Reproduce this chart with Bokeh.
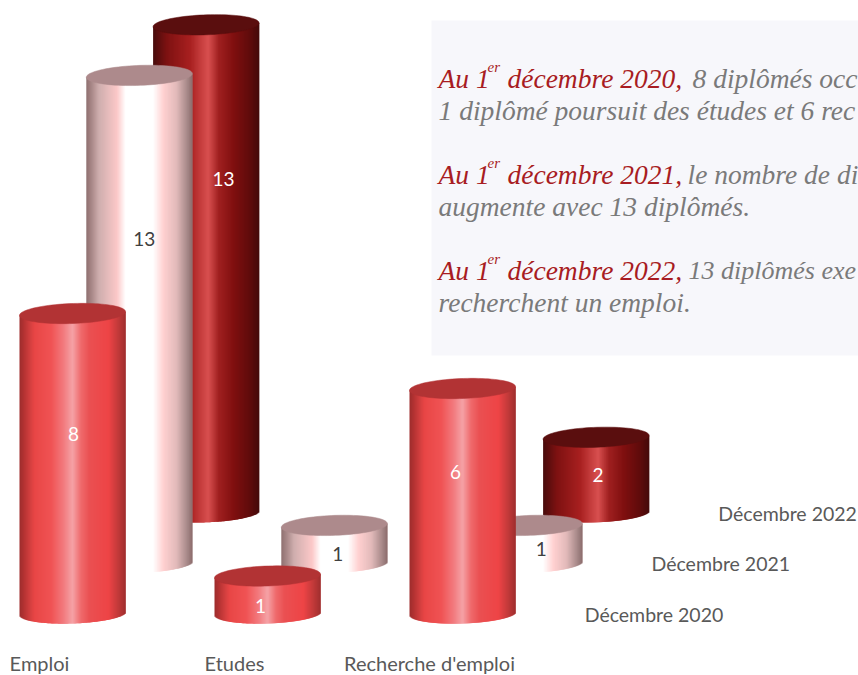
import numpy as np
from bokeh.plotting import figure
from bokeh.models import Range1d, Label, ColumnDataSource, GlobalInlineStyleSheet
from bokeh.core.properties import value
from bokeh.embed import file_html
from bokeh.resources import INLINE

categories = ["Emploi", "Etudes", "Recherche d'emploi"]
series_names = ["Décembre 2020", "Décembre 2021", "Décembre 2022"]
dec_2020 = [8, 1, 6]
dec_2021 = [13, 1, 1]
dec_2022 = [13, 0, 2]

# layout (pixels of the 858x675 page)
W, H = 858, 675
PX_CAT = 195.0     # one category step
PX_VAL = 37.5      # one unit of value
X0, Y0 = 72.0, 613.0   # foot of the first cylinder
DEPTH_X, DEPTH_Y = 66.8, 50.6
A, B, SHEAR = 53.0, 10.0, -0.035

def dx(px): return (px - X0) / PX_CAT
def dy(py): return (Y0 - py) / PX_VAL

styles = [
    dict(cap="#b23334", stops=[(0, "#9c2c2c"), (.05, "#b83434"), (.14, "#e84646"), (.30, "#f05354"),
                               (.42, "#f27c80"), (.50, "#f5a2a6"), (.58, "#ef6a6c"), (.66, "#ea5052"),
                               (.84, "#ee4446"), (.93, "#c23a3a"), (1, "#a02e2e")], label="#ffffff"),
    dict(cap="#ad8a8c", stops=[(0, "#8f7070"), (.05, "#a88888"), (.12, "#cfaeae"), (.29, "#fcc8c8"),
                               (.37, "#ffffff"), (.63, "#ffffff"), (.73, "#ffd0d0"), (.85, "#e2baba"),
                               (.95, "#a88a8a"), (1, "#8c6c6c")], label="#404040"),
    dict(cap="#5a0e0e", stops=[(0, "#480c0c"), (.13, "#7e1212"), (.35, "#a82020"), (.46, "#c84040"),
                               (.52, "#d85050"), (.62, "#a02020"), (.76, "#801010"), (.92, "#5e0c0c"),
                               (1, "#450a0a")], label="#ffffff"),
]
# value-label placement: share of bar height and sideways nudge in pixels
label_share = [[.60, .21, .627], [.665, .24, .37], [.684, 0, .50]]
label_nudge = [[1, -7, -7], [5, 3.5, 12], [17.5, 0, 2]]

def hex_rgb(c): return np.array([int(c[i:i + 2], 16) for i in (1, 3, 5)], float)

def ramp(stops, t):
    pos = [s[0] for s in stops]
    cols = np.array([hex_rgb(s[1]) for s in stops])
    return "#%02x%02x%02x" % tuple(int(round(np.interp(t, pos, cols[:, k]))) for k in range(3))

p = figure(width=W, height=H, x_range=Range1d(dx(0), dx(W)), y_range=Range1d(dy(H), dy(0)),
           toolbar_location=None, output_backend="svg", min_border=0,
           background_fill_color="#ffffff", border_fill_color="#ffffff")
p.stylesheets = [GlobalInlineStyleSheet(css="html,body{margin:0;padding:0;overflow:hidden}")]
p.axis.visible = False
p.grid.visible = False
p.outline_line_color = None

# text panel
p.quad(left=[dx(431)], right=[dx(W + 5)], top=[dy(20)], bottom=[dy(355)],
       fill_color="#f7f7fb", line_color=None)

all_series = [dec_2020, dec_2021, dec_2022]
N = 106
ts = (np.arange(N) + .5) / N
us = (ts * 2 - 1) * A
w = 2 * A / N
th = np.linspace(0, 2 * np.pi, 90)
labels = []
for s in (2, 1, 0):
    st = styles[s]
    colors = [ramp(st["stops"], t) for t in ts]
    for c, v in enumerate(all_series[s]):
        if not v:
            continue
        cx = X0 + c * PX_CAT + s * DEPTH_X
        foot = Y0 - s * DEPTH_Y
        top = foot - v * PX_VAL
        sag = B * np.sqrt(np.clip(1 - (us / A) ** 2, 0, 1))
        # each strip overlaps its right neighbour, so no seam shows between them
        rights = cx + us + w / 2 + 1.2
        rights[-1] = cx + A
        src = ColumnDataSource(dict(
            left=dx(cx + us - w / 2), right=dx(rights),
            top=dy(top + us * SHEAR), bottom=dy(foot + sag + us * SHEAR), color=colors))
        p.quad(left="left", right="right", top="top", bottom="bottom", source=src,
               fill_color="color", line_color=None)
        ex = A * np.cos(th)
        ey = B * np.sin(th) + ex * SHEAR
        p.patch(dx(cx + ex), dy(top + ey), fill_color=st["cap"], line_color=st["cap"], line_width=0.5)
        labels.append((cx + label_nudge[s][c], foot - v * PX_VAL * label_share[s][c], str(v), st["label"]))

p.text(x=[dx(l[0]) for l in labels], y=[dy(l[1]) for l in labels], text=[l[2] for l in labels],
       text_color=[l[3] for l in labels], text_font=value("Lato"), text_font_size="19px",
       text_align="center", text_baseline="middle")

# category labels
p.text(x=[dx(X0 - 33 + i * PX_CAT) for i in range(3)], y=[dy(662)] * 3, text=categories,
       text_color="#595959", text_font=value("Lato"), text_font_size="20px",
       text_align="center", text_baseline="middle")
# series labels
p.text(x=[dx(653.5 + i * DEPTH_X) for i in range(3)], y=[dy(614 - i * DEPTH_Y) for i in range(3)],
       text=series_names, text_color="#595959", text_font=value("Lato"), text_font_size="19.5px",
       text_align="center", text_baseline="middle")

RED, GREY = "#a81c22", "#7a7a7a"
para = [
    (438, 78, "Au 1", RED, 27.5), (487, 66, "er", RED, 15), (507, 78, "décembre 2020,", RED, 27.5),
    (692, 78, "8 diplômés occ", GREY, 27.5),
    (438, 110, "1 diplômé poursuit des études et 6 rec", GREY, 27.5),
    (438, 174, "Au 1", RED, 27.5), (487, 162, "er", RED, 15), (507, 174, "décembre 2021,", RED, 27.5),
    (687, 174, "le nombre de di", GREY, 27.5),
    (438, 206, "augmente avec 13 diplômés.", GREY, 27.5),
    (438, 270, "Au 1", RED, 27.5), (487, 258, "er", RED, 15), (507, 270, "décembre 2022,", RED, 27.5),
    (688, 270, "13 diplômés exe", GREY, 26),
    (438, 302, "recherchent un emploi.", GREY, 27.5),
]
for x, y, t, col, size in para:
    p.add_layout(Label(x=dx(x), y=dy(y), text=t, text_color=col, text_font="Liberation Serif",
                       text_font_style="italic", text_font_size=f"{size}px",
                       text_baseline="alphabetic", text_align="left"))

open("out.html", "w").write(file_html(p, INLINE))
